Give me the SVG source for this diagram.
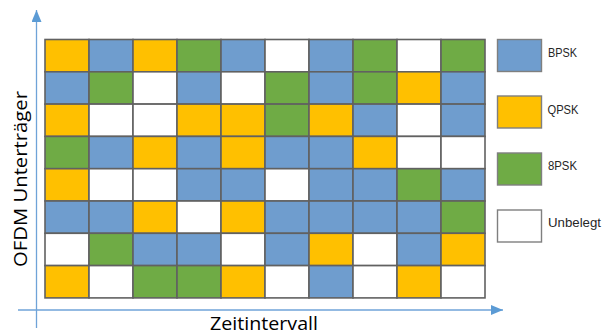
<svg xmlns="http://www.w3.org/2000/svg" width="602" height="336" viewBox="0 0 602 336">
<defs>
<style>
.B{fill:#6F9DCE}.Y{fill:#FFC000}.G{fill:#6FAB45}.W{fill:#FFFFFF}
.cell{stroke:#616161;stroke-width:1.6}
.leg{stroke:#7F7F7F;stroke-width:1.4}
.lt{font-family:"Liberation Sans",Arial,sans-serif;font-size:12px;fill:#262626}
.ax{stroke:#6FA3D8;stroke-width:1.3;fill:none}
.al{font-family:"Open Sans","Liberation Sans",sans-serif;font-size:18px;fill:#000}
</style>
<marker id="ah" viewBox="0 0 12 10" refX="12" refY="5" markerWidth="12" markerHeight="10" markerUnits="userSpaceOnUse" orient="auto">
<path d="M0,0 L12,5 L0,10 Z" fill="#5B9BD5"/>
</marker>
</defs>
<g id="connectors">
<line class="ax" x1="36.5" y1="328" x2="36.5" y2="10" marker-end="url(#ah)"/>
<line class="ax" x1="18" y1="310" x2="503" y2="310" marker-end="url(#ah)"/>
</g>
<g id="grid" class="cell">
<g id="row1">
<rect class="Y" x="45" y="39.5" width="44" height="32.3"/><rect class="B" x="89" y="39.5" width="44" height="32.3"/><rect class="Y" x="133" y="39.5" width="44" height="32.3"/><rect class="G" x="177" y="39.5" width="44" height="32.3"/><rect class="B" x="221" y="39.5" width="44" height="32.3"/><rect class="W" x="265" y="39.5" width="44" height="32.3"/><rect class="B" x="309" y="39.5" width="44" height="32.3"/><rect class="G" x="353" y="39.5" width="44" height="32.3"/><rect class="W" x="397" y="39.5" width="44" height="32.3"/><rect class="G" x="441" y="39.5" width="44" height="32.3"/>
</g>
<g id="row2">
<rect class="B" x="45" y="71.8" width="44" height="32.3"/><rect class="G" x="89" y="71.8" width="44" height="32.3"/><rect class="W" x="133" y="71.8" width="44" height="32.3"/><rect class="B" x="177" y="71.8" width="44" height="32.3"/><rect class="W" x="221" y="71.8" width="44" height="32.3"/><rect class="G" x="265" y="71.8" width="44" height="32.3"/><rect class="B" x="309" y="71.8" width="44" height="32.3"/><rect class="G" x="353" y="71.8" width="44" height="32.3"/><rect class="Y" x="397" y="71.8" width="44" height="32.3"/><rect class="B" x="441" y="71.8" width="44" height="32.3"/>
</g>
<g id="row3">
<rect class="Y" x="45" y="104.1" width="44" height="32.3"/><rect class="W" x="89" y="104.1" width="44" height="32.3"/><rect class="W" x="133" y="104.1" width="44" height="32.3"/><rect class="Y" x="177" y="104.1" width="44" height="32.3"/><rect class="Y" x="221" y="104.1" width="44" height="32.3"/><rect class="G" x="265" y="104.1" width="44" height="32.3"/><rect class="Y" x="309" y="104.1" width="44" height="32.3"/><rect class="B" x="353" y="104.1" width="44" height="32.3"/><rect class="W" x="397" y="104.1" width="44" height="32.3"/><rect class="B" x="441" y="104.1" width="44" height="32.3"/>
</g>
<g id="row4">
<rect class="G" x="45" y="136.4" width="44" height="32.3"/><rect class="B" x="89" y="136.4" width="44" height="32.3"/><rect class="Y" x="133" y="136.4" width="44" height="32.3"/><rect class="B" x="177" y="136.4" width="44" height="32.3"/><rect class="Y" x="221" y="136.4" width="44" height="32.3"/><rect class="B" x="265" y="136.4" width="44" height="32.3"/><rect class="B" x="309" y="136.4" width="44" height="32.3"/><rect class="Y" x="353" y="136.4" width="44" height="32.3"/><rect class="W" x="397" y="136.4" width="44" height="32.3"/><rect class="W" x="441" y="136.4" width="44" height="32.3"/>
</g>
<g id="row5">
<rect class="Y" x="45" y="168.7" width="44" height="32.3"/><rect class="W" x="89" y="168.7" width="44" height="32.3"/><rect class="W" x="133" y="168.7" width="44" height="32.3"/><rect class="B" x="177" y="168.7" width="44" height="32.3"/><rect class="B" x="221" y="168.7" width="44" height="32.3"/><rect class="W" x="265" y="168.7" width="44" height="32.3"/><rect class="B" x="309" y="168.7" width="44" height="32.3"/><rect class="B" x="353" y="168.7" width="44" height="32.3"/><rect class="G" x="397" y="168.7" width="44" height="32.3"/><rect class="B" x="441" y="168.7" width="44" height="32.3"/>
</g>
<g id="row6">
<rect class="B" x="45" y="201" width="44" height="32.3"/><rect class="B" x="89" y="201" width="44" height="32.3"/><rect class="Y" x="133" y="201" width="44" height="32.3"/><rect class="W" x="177" y="201" width="44" height="32.3"/><rect class="Y" x="221" y="201" width="44" height="32.3"/><rect class="B" x="265" y="201" width="44" height="32.3"/><rect class="B" x="309" y="201" width="44" height="32.3"/><rect class="B" x="353" y="201" width="44" height="32.3"/><rect class="B" x="397" y="201" width="44" height="32.3"/><rect class="G" x="441" y="201" width="44" height="32.3"/>
</g>
<g id="row7">
<rect class="W" x="45" y="233.3" width="44" height="32.3"/><rect class="G" x="89" y="233.3" width="44" height="32.3"/><rect class="B" x="133" y="233.3" width="44" height="32.3"/><rect class="B" x="177" y="233.3" width="44" height="32.3"/><rect class="W" x="221" y="233.3" width="44" height="32.3"/><rect class="B" x="265" y="233.3" width="44" height="32.3"/><rect class="Y" x="309" y="233.3" width="44" height="32.3"/><rect class="W" x="353" y="233.3" width="44" height="32.3"/><rect class="B" x="397" y="233.3" width="44" height="32.3"/><rect class="Y" x="441" y="233.3" width="44" height="32.3"/>
</g>
<g id="row8">
<rect class="Y" x="45" y="265.6" width="44" height="32.3"/><rect class="W" x="89" y="265.6" width="44" height="32.3"/><rect class="G" x="133" y="265.6" width="44" height="32.3"/><rect class="G" x="177" y="265.6" width="44" height="32.3"/><rect class="Y" x="221" y="265.6" width="44" height="32.3"/><rect class="W" x="265" y="265.6" width="44" height="32.3"/><rect class="B" x="309" y="265.6" width="44" height="32.3"/><rect class="W" x="353" y="265.6" width="44" height="32.3"/><rect class="Y" x="397" y="265.6" width="44" height="32.3"/><rect class="W" x="441" y="265.6" width="44" height="32.3"/>
</g>
</g>
<g id="legend-bpsk">
<rect class="B leg" x="497.5" y="39.5" width="44" height="32"/>
<text class="lt" x="548" y="56.5" textLength="29" lengthAdjust="spacingAndGlyphs">BPSK</text>
</g>
<g id="legend-qpsk">
<rect class="Y leg" x="497.5" y="96" width="44" height="32"/>
<text class="lt" x="547.5" y="113.5" textLength="31" lengthAdjust="spacingAndGlyphs">QPSK</text>
</g>
<g id="legend-8psk">
<rect class="G leg" x="497.5" y="153" width="44" height="32"/>
<text class="lt" x="548" y="170" textLength="29" lengthAdjust="spacingAndGlyphs">8PSK</text>
</g>
<g id="legend-unbelegt">
<rect class="W leg" x="497.5" y="210" width="44" height="32"/>
<text class="lt" x="548" y="226.5" textLength="53" lengthAdjust="spacingAndGlyphs">Unbelegt</text>
</g>
<g id="axis-labels">
<text class="al" transform="translate(27,267) rotate(-90)" textLength="176" lengthAdjust="spacingAndGlyphs">OFDM Unterträger</text>
<text class="al" x="210" y="330" font-size="16" textLength="108" lengthAdjust="spacingAndGlyphs">Zeitintervall</text>
</g>
</svg>
